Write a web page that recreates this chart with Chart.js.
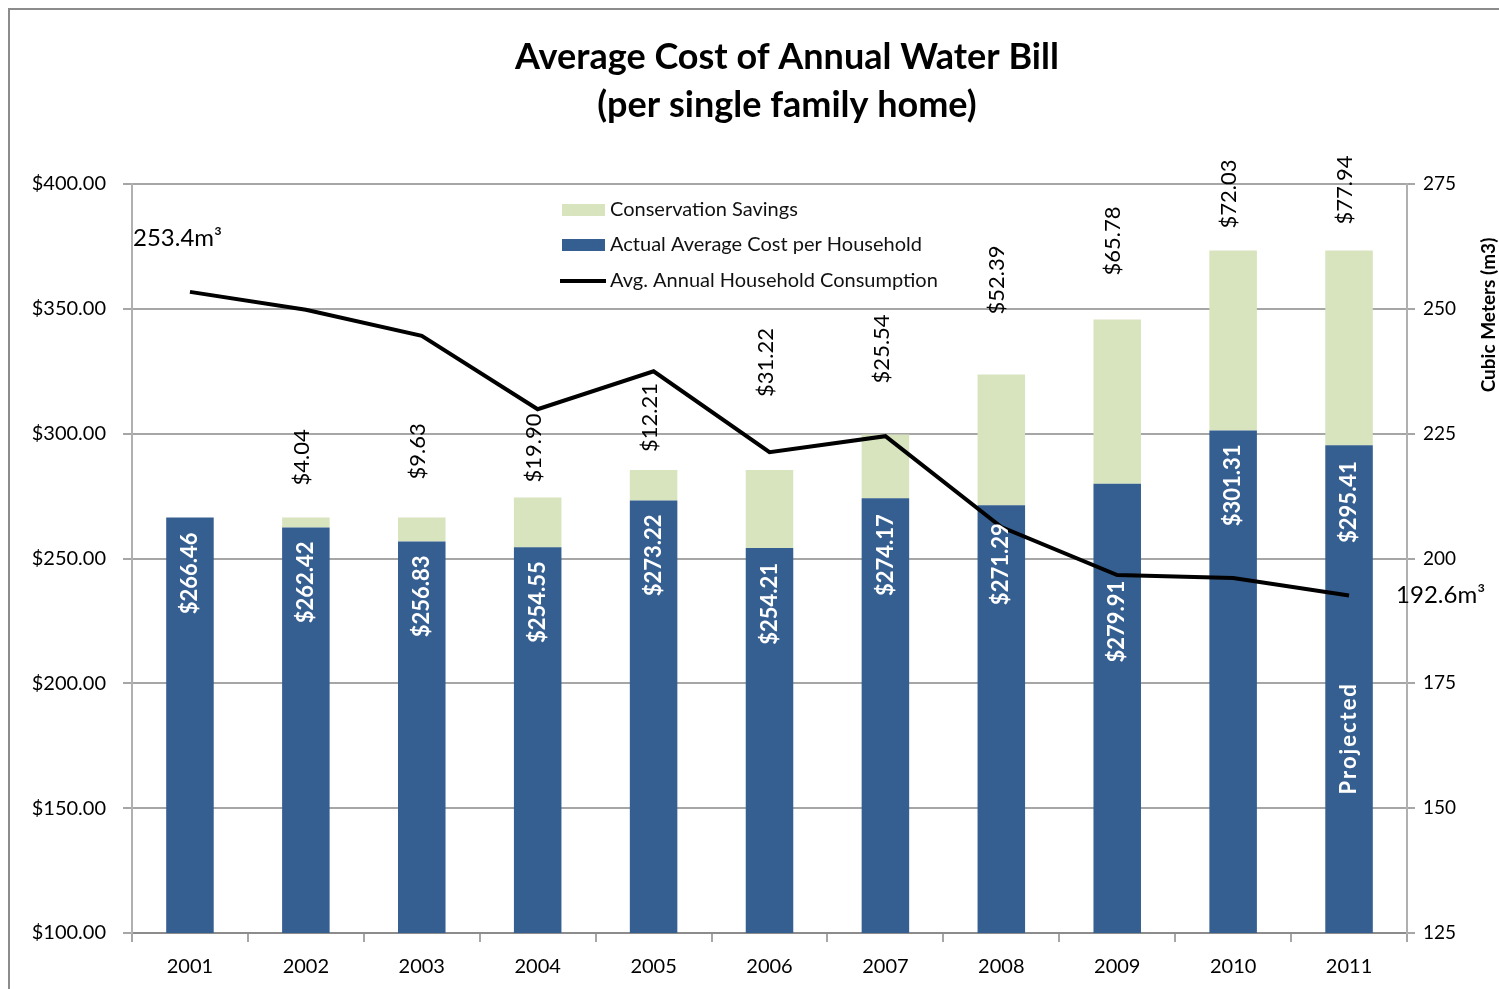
<!DOCTYPE html>
<html>
<head>
<meta charset="utf-8">
<script src="https://cdn.jsdelivr.net/npm/chart.js@4/dist/chart.umd.min.js"></script>
<style>
  html, body { margin: 0; padding: 0; background: #fff; }
  #wrap { width: 1499px; height: 989px; }
</style>
</head>
<body>
<div id="wrap"><canvas id="chart" width="1499" height="989"></canvas></div>
<script>
const years = ["2001", "2002", "2003", "2004", "2005", "2006", "2007", "2008", "2009", "2010", "2011"];
const actualCost = [266.46, 262.42, 256.83, 254.55, 273.22, 254.21, 274.17, 271.29, 279.91, 301.31, 295.41];
const savings = [0, 4.04, 9.63, 19.90, 12.21, 31.22, 25.54, 52.39, 65.78, 72.03, 77.94];
const consumption = [253.4, 249.8, 244.6, 229.9, 237.5, 221.3, 224.5, 206.3, 196.7, 196.1, 192.6];

// label placement (px)
const savingsGap = [0, 32, 38, 15, 18, 73, 51, 60, 44, 22, 26];
const costLabelGap = [15, 14, 14, 14, 14, 15, 16, 18, 97, 14, 16];

const blue = "#365f91";
const green = "#d7e4bd";
const gridColor = "#a6a6a6";
const font = "Lato";

const money = v => "$" + v.toFixed(2);

const overlay = {
    id: "overlay",
    beforeDraw(chart) {
        const ctx = chart.ctx;
        ctx.save();
        ctx.strokeStyle = "#8c8c8c";
        ctx.lineWidth = 2;
        ctx.beginPath();
        ctx.moveTo(9, 989);
        ctx.lineTo(9, 9);
        ctx.lineTo(1499, 9);
        ctx.stroke();
        ctx.restore();
    },
    afterDatasetsDraw(chart) {
        const ctx = chart.ctx;
        const area = chart.chartArea;
        const lineMeta = chart.getDatasetMeta(0);
        const blueMeta = chart.getDatasetMeta(1);
        const greenMeta = chart.getDatasetMeta(2);

        ctx.save();

        // title
        ctx.fillStyle = "#000";
        ctx.textAlign = "center";
        ctx.textBaseline = "middle";
        ctx.font = "bold 36px " + font;
        ctx.fillText("Average Cost of Annual Water Bill", 787, 57);
        ctx.fillText("(per single family home)", 787, 105);

        // value labels inside blue bars
        ctx.font = "bold 22px " + font;
        ctx.fillStyle = "#fff";
        blueMeta.data.forEach((bar, i) => {
            ctx.save();
            ctx.translate(bar.x, bar.y + costLabelGap[i]);
            ctx.rotate(-Math.PI / 2);
            ctx.textAlign = "right";
            ctx.textBaseline = "middle";
            ctx.fillText(money(actualCost[i]), 0, 0);
            ctx.restore();
        });

        // savings labels above the stacks
        ctx.font = "22px " + font;
        ctx.fillStyle = "#000";
        greenMeta.data.forEach((bar, i) => {
            if (!savings[i]) return;
            ctx.save();
            ctx.translate(bar.x - 4, bar.y - savingsGap[i]);
            ctx.rotate(-Math.PI / 2);
            ctx.textAlign = "left";
            ctx.textBaseline = "middle";
            ctx.fillText(money(savings[i]), 0, 0);
            ctx.restore();
        });

        // "Projected" on the last bar
        const last = blueMeta.data[blueMeta.data.length - 1];
        ctx.save();
        ctx.translate(last.x, chart.scales.y.getPixelForValue(178));
        ctx.rotate(-Math.PI / 2);
        ctx.font = "bold 22px " + font;
        ctx.fillStyle = "#fff";
        ctx.textAlign = "center";
        ctx.textBaseline = "middle";
        if ("letterSpacing" in ctx) ctx.letterSpacing = "2px";
        ctx.fillText("Projected", 0, 0);
        ctx.restore();

        // consumption end labels
        const p0 = lineMeta.data[0];
        const pN = lineMeta.data[lineMeta.data.length - 1];
        ctx.font = "24px " + font;
        ctx.fillStyle = "#000";
        ctx.textBaseline = "middle";
        ctx.textAlign = "left";
        ctx.fillText(consumption[0].toFixed(1) + "m\u00b3", area.left + 1, p0.y - 54);
        ctx.fillText(consumption[consumption.length - 1].toFixed(1) + "m\u00b3", pN.x + 47, pN.y);

        // legend
        const lx = 562, ly = [210, 245, 281];
        ctx.font = "20px " + font;
        ctx.fillStyle = green;
        ctx.fillRect(lx, ly[0] - 6, 43, 12);
        ctx.fillStyle = blue;
        ctx.fillRect(lx, ly[1] - 6, 43, 12);
        ctx.strokeStyle = "#000";
        ctx.lineWidth = 4;
        ctx.beginPath();
        ctx.moveTo(lx - 2, ly[2]);
        ctx.lineTo(lx + 44, ly[2]);
        ctx.stroke();
        ctx.fillStyle = "#111";
        ctx.fillText("Conservation Savings", lx + 48, ly[0]);
        ctx.fillText("Actual Average Cost per Household", lx + 48, ly[1]);
        ctx.fillText("Avg. Annual Household Consumption", lx + 48, ly[2]);

        // right axis title
        ctx.save();
        ctx.translate(1489, 315);
        ctx.rotate(-Math.PI / 2);
        ctx.font = "bold 19px " + font;
        ctx.textAlign = "center";
        ctx.textBaseline = "middle";
        ctx.fillStyle = "#000";
        ctx.fillText("Cubic Meters (m3)", 0, 0);
        ctx.restore();

        ctx.restore();
    }
};

const ctx = document.getElementById("chart");

new Chart(ctx, {
    type: "bar",
    data: {
        labels: years,
        datasets: [
            {
                type: "line",
                label: "Avg. Annual Household Consumption",
                data: consumption,
                yAxisID: "y1",
                borderColor: "#000",
                borderWidth: 4,
                pointRadius: 0,
                tension: 0,
                order: 0,
            },
            {
                label: "Actual Average Cost per Household",
                data: actualCost,
                backgroundColor: blue,
                yAxisID: "y",
                stack: "cost",
                order: 1,
            },
            {
                label: "Conservation Savings",
                data: savings,
                backgroundColor: green,
                yAxisID: "y",
                stack: "cost",
                order: 2,
            },
        ],
    },
    options: {
        responsive: false,
        animation: false,
        layout: { padding: { top: 184, left: 0, right: 0, bottom: 0 } },
        datasets: {
            bar: { categoryPercentage: 1, barPercentage: 0.41 },
        },
        plugins: {
            legend: { display: false },
            title: { display: false },
            tooltip: { enabled: false },
        },
        scales: {
            x: {
                stacked: true,
                afterFit: s => { s.height = 56; },
                grid: { drawOnChartArea: false, tickLength: 9, color: gridColor, lineWidth: 2 },
                border: { color: "#8c8c8c", width: 2 },
                ticks: { color: "#000", font: { family: font, size: 20 }, padding: 13 },
            },
            y: {
                stacked: true,
                min: 100,
                max: 400,
                afterFit: s => { s.width = 132; },
                grid: { color: gridColor, lineWidth: 2, tickLength: 9 },
                border: { color: "#b0b0b0", width: 2 },
                ticks: {
                    stepSize: 50,
                    color: "#000",
                    padding: 17,
                    font: { family: font, size: 20 },
                    callback: v => money(v),
                },
            },
            y1: {
                position: "right",
                min: 125,
                max: 275,
                afterFit: s => { s.width = 92; },
                grid: { drawOnChartArea: false, color: gridColor, lineWidth: 2, tickLength: 8 },
                border: { color: "#b0b0b0", width: 2 },
                ticks: {
                    stepSize: 25,
                    color: "#000",
                    padding: 8,
                    font: { family: font, size: 19 },
                },
            },
        },
    },
    plugins: [overlay],
});
</script>
</body>
</html>
